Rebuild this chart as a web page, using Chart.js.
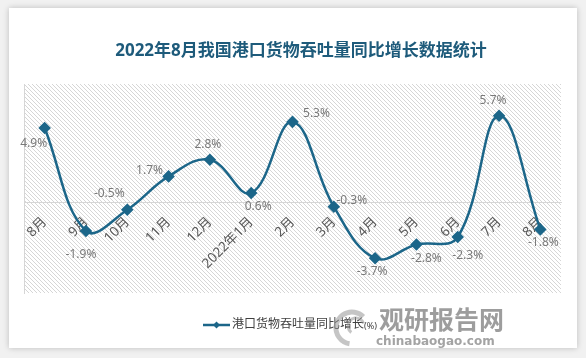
<!DOCTYPE html>
<html>
<head>
<meta charset="utf-8">
<script src="https://cdn.jsdelivr.net/npm/chart.js@4.4.0/dist/chart.umd.min.js"></script>
<style>
  html, body { margin: 0; padding: 0; background: #f1f1f1; }
  #wrap { position: relative; width: 586px; height: 358px; overflow: hidden; }
  #card { position: absolute; left: 9px; top: 8px; width: 568px; height: 340px; background: #fff;
          box-shadow: 0 0 6px rgba(0,0,0,0.22); }
  #chart { position: absolute; left: 0; top: 0; }
</style>
</head>
<body>
<div id="wrap">
  <div id="card"></div>
  <canvas id="chart" width="586" height="358"></canvas>
</div>
<script>
const titleText = '2022年8月我国港口货物吞吐量同比增长数据统计';
const seriesName = '港口货物吞吐量同比增长';
const months = ['8月', '9月', '10月', '11月', '12月', '2022年1月', '2月', '3月', '4月', '5月', '6月', '7月', '8月'];
const growth = [4.9, -1.9, -0.5, 1.7, 2.8, 0.6, 5.3, -0.3, -3.7, -2.8, -2.3, 5.7, -1.8];

const lineColor = '#1c6689';
const cjk = '"Noto Sans", "Noto Sans CJK SC", sans-serif';

// diagonal hatch like the excel plot area fill
function makeHatch(ctx) {
  const c = document.createElement('canvas');
  c.width = 4; c.height = 4;
  const g = c.getContext('2d');
  g.fillStyle = '#ffffff';
  g.fillRect(0, 0, 4, 4);
  g.fillStyle = '#d6d6d6';
  for (let i = 0; i < 4; i++) g.fillRect(i, i, 1, 1);
  return ctx.createPattern(c, 'repeat');
}

const decor = {
  id: 'decor',
  beforeDraw(chart) {
    const {ctx, chartArea: a} = chart;
    ctx.save();
    ctx.fillStyle = makeHatch(ctx);
    ctx.fillRect(a.left, a.top, a.right - a.left, a.bottom - a.top);
    ctx.restore();
  },
  afterDatasetsDraw(chart, args, opts) {
    const {ctx} = chart;
    const meta = chart.getDatasetMeta(0);
    ctx.save();
    ctx.font = '12px ' + cjk;
    ctx.fillStyle = '#7a7a7a';
    ctx.textAlign = 'center';
    ctx.textBaseline = 'middle';
    meta.data.forEach((pt, i) => {
      const off = opts.offsets[i];
      ctx.fillText(growth[i].toFixed(1) + '%', pt.x + off[0], pt.y + off[1]);
    });
    ctx.restore();
  },
  afterDraw(chart) {
    const {ctx} = chart;
    ctx.save();
    // title
    ctx.font = 'bold 17px ' + cjk;
    ctx.fillStyle = '#1e5b7b';
    ctx.textAlign = 'center';
    ctx.textBaseline = 'middle';
    ctx.fillText(titleText, 301, 51);

    // legend
    ctx.strokeStyle = lineColor;
    ctx.lineWidth = 2.5;
    ctx.beginPath();
    ctx.moveTo(203, 325);
    ctx.lineTo(230, 325);
    ctx.stroke();
    ctx.fillStyle = lineColor;
    ctx.beginPath();
    ctx.moveTo(216.5, 321.5);
    ctx.lineTo(220, 325);
    ctx.lineTo(216.5, 328.5);
    ctx.lineTo(213, 325);
    ctx.closePath();
    ctx.fill();
    ctx.textAlign = 'left';
    ctx.fillStyle = '#404040';
    ctx.font = '12px ' + cjk;
    ctx.fillText(seriesName, 232, 325);
    const w = ctx.measureText(seriesName).width;
    ctx.font = '9px ' + cjk;
    ctx.fillText('(%)', 232 + w, 326);

    // watermark
    ctx.strokeStyle = 'rgba(150,150,150,0.55)';
    ctx.lineWidth = 5;
    ctx.beginPath();
    ctx.arc(352, 328, 16, Math.PI * 0.55, Math.PI * 1.75);
    ctx.stroke();
    ctx.lineWidth = 3;
    ctx.beginPath();
    ctx.arc(356, 326, 8, Math.PI * 0.7, Math.PI * 1.9);
    ctx.stroke();
    ctx.fillStyle = 'rgba(140,140,140,0.85)';
    ctx.font = 'bold 25px ' + cjk;
    ctx.textBaseline = 'middle';
    ctx.fillText('观研报告网', 379, 322);
    ctx.fillStyle = 'rgba(140,140,140,0.8)';
    ctx.font = 'bold 12px "DejaVu Sans", sans-serif';
    ctx.fillText('chinabaogao.com', 376, 342);
    ctx.restore();
  }
};

new Chart(document.getElementById('chart'), {
  type: 'line',
  data: {
    labels: months,
    datasets: [{
      label: seriesName,
      data: growth,
      borderColor: lineColor,
      backgroundColor: lineColor,
      borderWidth: 2.5,
      tension: 0.4,
      pointStyle: 'rectRot',
      pointRadius: 4.5,
      pointHoverRadius: 4.5,
      pointBackgroundColor: lineColor,
      pointBorderColor: lineColor,
      clip: 8
    }]
  },
  options: {
    responsive: false,
    animation: false,
    layout: { padding: { left: 24, right: 25, top: 84, bottom: 65 } },
    plugins: {
      legend: { display: false },
      title: { display: false },
      tooltip: { enabled: false },
      decor: {
        offsets: [[-11, 16], [-5, 24], [-18, -16], [-19, -6], [-2, -15], [7, 14], [24, -8],
                  [18, -6], [-3, 13], [10, 14], [10, 19], [-6, -15], [3, 13]]
      }
    },
    scales: {
      x: {
        position: { y: 0 },
        offset: true,
        grid: { display: false, drawTicks: false },
        border: { display: true, color: '#d6d6d6', width: 1 },
        ticks: {
          autoSkip: false,
          minRotation: 45,
          maxRotation: 45,
          padding: 12,
          color: '#595959',
          font: { size: 13.5, family: cjk }
        }
      },
      y: {
        min: -6,
        max: 7.8,
        grid: { display: false, drawTicks: false },
        border: { display: true, color: '#d6d6d6', width: 1 },
        ticks: { display: false }
      }
    }
  },
  plugins: [decor]
});
</script>
</body>
</html>
